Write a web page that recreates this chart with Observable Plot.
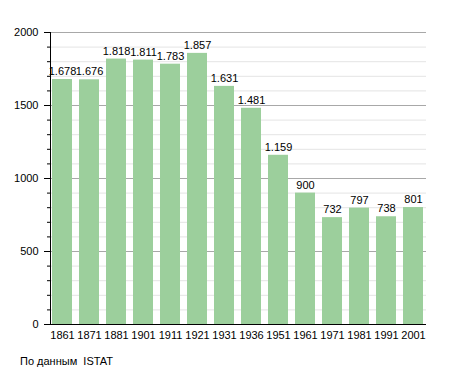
<!DOCTYPE html>
<html><head><meta charset="utf-8">
<script src="https://cdn.jsdelivr.net/npm/d3@7"></script>
<script src="https://cdn.jsdelivr.net/npm/@observablehq/plot@0.6"></script>
<style>
body{margin:0;background:#fff;font-family:"Liberation Sans",Arial,sans-serif;}
#wrap{position:relative;width:455px;height:373px;}
#cap{position:absolute;left:20px;top:355px;font-size:11px;color:#000;}
</style></head>
<body><div id="wrap"><div id="chart"></div><div id="cap">По данным&nbsp; ISTAT</div></div>
<script>
const years = ["1861","1871","1881","1901","1911","1921","1931","1936","1951","1961","1971","1981","1991","2001"];
const population = [1678,1676,1818,1811,1783,1857,1631,1481,1159,900,732,797,738,801];
const majorTicks = [0,500,1000,1500,2000];
const minorTicks = d3.range(0,2001,100);

const data = years.map((y,i)=>({year:y, value:population[i]}));
const fmt = v => d3.format(",")(v).replace(/,/g,".");

const chart = Plot.plot({
  width:455, height:345,
  marginLeft:50, marginRight:29, marginTop:32, marginBottom:21,
  style:{fontFamily:"Liberation Sans, Arial, sans-serif", fontSize:"11px", color:"#000", background:"#fff"},
  x:{domain:years, paddingInner:0.25, paddingOuter:0.02, axis:null, label:null},
  y:{domain:[0,2000], axis:null, label:null},
  marks:[
    Plot.ruleY(minorTicks.filter(v=>v%500!==0), {stroke:"#e4e4e4", strokeWidth:1}),
    Plot.ruleY(majorTicks.filter(v=>v>0), {stroke:"#a8a8a8", strokeWidth:1}),
    Plot.barY(data, {x:"year", y:"value", fill:"#9ccf9c"}),
    Plot.text(data, {x:"year", y:"value", text:d=>fmt(d.value), dy:-8, fill:"#000", fontSize:11}),
    Plot.axisY(minorTicks, {tickSize:3, tickFormat:()=>"", label:null}),
    Plot.axisY(majorTicks, {tickSize:6, tickPadding:6, tickFormat:d=>String(d), fontSize:11, fill:"#000", label:null}),
    Plot.axisX({tickSize:0, tickPadding:7, fontSize:11, fill:"#000", label:null}),
    Plot.ruleY([0], {stroke:"#000", strokeWidth:1.2}),
    Plot.frame({anchor:"left", stroke:"#000"})
  ]
});
document.getElementById("chart").appendChild(chart);
</script></body></html>
